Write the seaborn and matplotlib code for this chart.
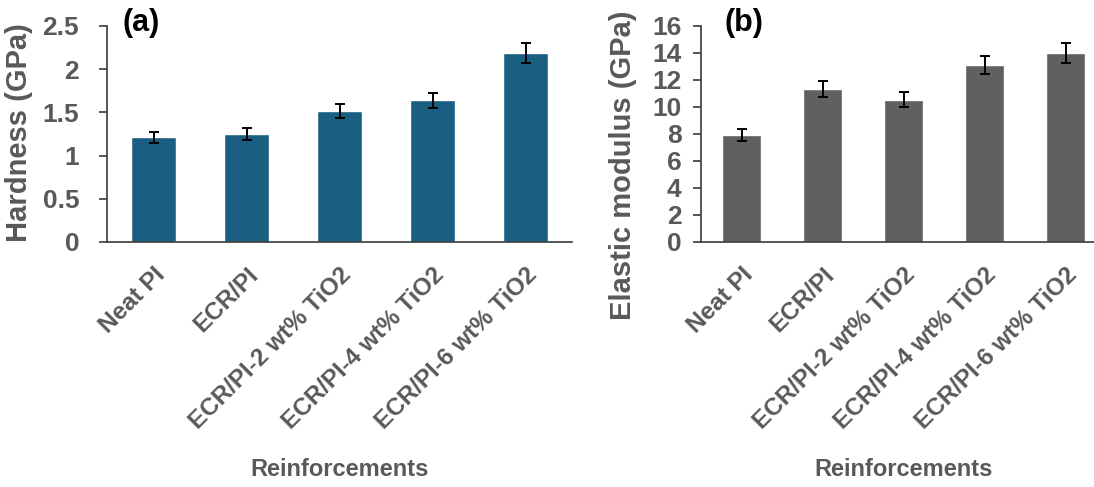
import pandas as pd
import matplotlib
matplotlib.use("Agg")
import matplotlib.pyplot as plt
import seaborn as sns

# ---------------- Data ----------------
categories = ["Neat PI", "ECR/PI", "ECR/PI-2 wt% TiO2", "ECR/PI-4 wt% TiO2", "ECR/PI-6 wt% TiO2"]
hardness = [1.21, 1.25, 1.52, 1.64, 2.19]
hardness_err = [0.063, 0.07, 0.082, 0.088, 0.115]
modulus = [7.92, 11.32, 10.55, 13.12, 14.0]
modulus_err = [0.45, 0.59, 0.57, 0.68, 0.71]

df = pd.DataFrame({"Reinforcements": categories, "Hardness": hardness,
                   "Hardness_err": hardness_err, "Modulus": modulus,
                   "Modulus_err": modulus_err})

# ---------------- Style ----------------
sns.set_style("white")
plt.rcParams["font.family"] = ["Liberation Sans", "DejaVu Sans"]
plt.rcParams["font.weight"] = "bold"
text_grey = "#595959"
axis_col = "#3a3a3a"

fig = plt.figure(figsize=(10.94, 4.87), dpi=100)
ax_a = fig.add_axes([107 / 1094, 1 - 242 / 487, 465 / 1094, 216 / 487])
ax_b = fig.add_axes([701 / 1094, 1 - 242 / 487, 405 / 1094, 216 / 487])


def draw_panel(ax, col, err, color, ymax, step, ylabel, ticklabels, ypad, ylab_pos):
    sns.barplot(data=df, x="Reinforcements", y=col, color=color, width=0.48,
                errorbar=None, saturation=1, ax=ax)
    ax.errorbar(range(len(categories)), df[col], yerr=df[err], fmt="none",
                ecolor="black", elinewidth=1.4, capsize=3.5, capthick=1.4)
    ax.set_ylim(0, ymax)
    ticks = [i * step for i in range(len(ticklabels))]
    ax.set_yticks(ticks)
    ax.set_yticklabels(ticklabels, fontsize=19, fontweight="bold", color=text_grey)
    ax.set_xticks(range(len(categories)))
    ax.set_xticklabels(categories, rotation=45, ha="right", rotation_mode="anchor",
                       fontsize=17.5, fontweight="bold", color=text_grey)
    ax.set_xlim(-0.5, len(categories) - 0.5)
    ax.set_ylabel(ylabel, fontsize=21, fontweight="bold", color=text_grey)
    ax.yaxis.set_label_coords(*ylab_pos)
    ax.set_xlabel("Reinforcements", fontsize=17, fontweight="bold", color=text_grey)
    ax.xaxis.set_label_coords(0.5, (242 - 458) / 216)
    for s in ["top", "right"]:
        ax.spines[s].set_visible(False)
    for s in ["left", "bottom"]:
        ax.spines[s].set_color(axis_col)
        ax.spines[s].set_linewidth(1.2)
    ax.tick_params(axis="y", direction="out", length=6, width=1.2, color=axis_col,
                   left=True, pad=ypad)
    ax.tick_params(axis="x", length=0, pad=15)


draw_panel(ax_a, "Hardness", "Hardness_err", "#1a5e82", 2.5, 0.5,
           "Hardness (GPa)", ["0", "0.5", "1", "1.5", "2", "2.5"], 14,
           ((33 - 107) / 465, (242 - 133) / 216))
draw_panel(ax_b, "Modulus", "Modulus_err", "#606060", 16, 2,
           "Elastic modulus (GPa)", [str(v) for v in range(0, 17, 2)], 8,
           ((637 - 701) / 405, (242 - 165) / 216))

fig.text(122 / 1094, 1 - 31 / 487, "(a)", fontsize=22, fontweight="bold", color="black",
         va="baseline")
fig.text(724 / 1094, 1 - 31 / 487, "(b)", fontsize=22, fontweight="bold", color="black",
         va="baseline")

fig.savefig("out.png", dpi=100)
